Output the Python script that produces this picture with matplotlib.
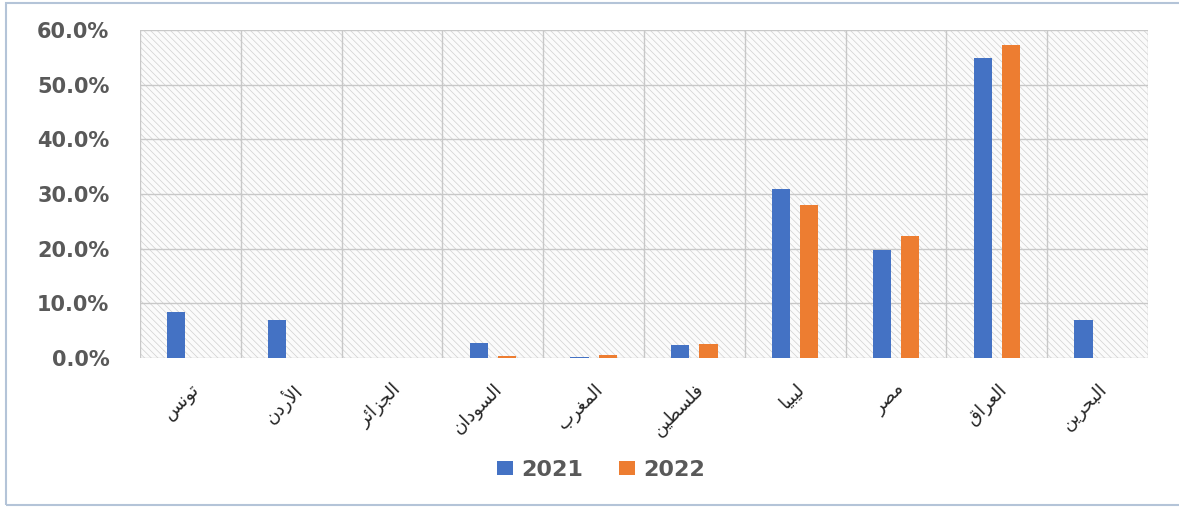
import matplotlib.pyplot as plt
import numpy as np
from matplotlib.patches import Rectangle
from matplotlib.ticker import PercentFormatter

countries = ["تونس", "الأردن", "الجزائر", "السودان", "المغرب",
             "فلسطين", "ليبيا", "مصر", "العراق", "البحرين"]
years = ["2021", "2022"]
share_2021 = [8.4, 6.9, 0.0, 2.7, 0.1, 2.4, 31.0, 19.7, 54.8, 6.9]
share_2022 = [0.0, 0.0, 0.0, 0.3, 0.5, 2.5, 28.0, 22.3, 57.2, 0.0]

BLUE = "#4472C4"
ORANGE = "#ED7D31"
GREY = "#595959"

# matplotlib has no Arabic shaping, so map letters to presentation forms
# (isolated, final, initial, medial); None = letter does not join forward
FORMS = {
    "ا": ("\uFE8D", "\uFE8E", None, None),
    "أ": ("\uFE83", "\uFE84", None, None),
    "ب": ("\uFE8F", "\uFE90", "\uFE91", "\uFE92"),
    "ت": ("\uFE95", "\uFE96", "\uFE97", "\uFE98"),
    "ج": ("\uFE9D", "\uFE9E", "\uFE9F", "\uFEA0"),
    "ح": ("\uFEA1", "\uFEA2", "\uFEA3", "\uFEA4"),
    "د": ("\uFEA9", "\uFEAA", None, None),
    "ر": ("\uFEAD", "\uFEAE", None, None),
    "ز": ("\uFEAF", "\uFEB0", None, None),
    "س": ("\uFEB1", "\uFEB2", "\uFEB3", "\uFEB4"),
    "ص": ("\uFEB9", "\uFEBA", "\uFEBB", "\uFEBC"),
    "ط": ("\uFEC1", "\uFEC2", "\uFEC3", "\uFEC4"),
    "ع": ("\uFEC9", "\uFECA", "\uFECB", "\uFECC"),
    "غ": ("\uFECD", "\uFECE", "\uFECF", "\uFED0"),
    "ف": ("\uFED1", "\uFED2", "\uFED3", "\uFED4"),
    "ق": ("\uFED5", "\uFED6", "\uFED7", "\uFED8"),
    "ل": ("\uFEDD", "\uFEDE", "\uFEDF", "\uFEE0"),
    "م": ("\uFEE1", "\uFEE2", "\uFEE3", "\uFEE4"),
    "ن": ("\uFEE5", "\uFEE6", "\uFEE7", "\uFEE8"),
    "و": ("\uFEED", "\uFEEE", None, None),
    "ي": ("\uFEF1", "\uFEF2", "\uFEF3", "\uFEF4"),
    "ئ": ("\uFE89", "\uFE8A", "\uFE8B", "\uFE8C"),
    "لأ": ("\uFEF7", "\uFEF8", None, None),
    "لا": ("\uFEFB", "\uFEFC", None, None),
}


def shape(word):
    # split into units, merging lam-alef ligatures
    units, i = [], 0
    while i < len(word):
        if word[i] == "ل" and i + 1 < len(word) and word[i + 1] in "اأ":
            units.append(word[i:i + 2])
            i += 2
        else:
            units.append(word[i])
            i += 1
    out = []
    for k, u in enumerate(units):
        iso, fin, ini, med = FORMS[u]
        prev_joins = k > 0 and FORMS[units[k - 1]][2] is not None
        next_exists = k + 1 < len(units)
        if prev_joins and next_exists and med:
            out.append(med)
        elif prev_joins:
            out.append(fin)
        elif next_exists and ini:
            out.append(ini)
        else:
            out.append(iso)
    return "".join(reversed(out))


plt.rcParams["hatch.linewidth"] = 0.5

fig = plt.figure(figsize=(11.79, 5.07), dpi=100)
fig.patch.set_facecolor("white")
fig.add_artist(Rectangle((0.005, 0.004), 1.2, 0.99, transform=fig.transFigure,
                         fill=False, edgecolor="#b4c4d8", linewidth=1.5))

ax = fig.add_axes([0.1187, 0.2939, 0.8550, 0.6469])
x = np.arange(len(countries))
w = 0.18
ax.bar(x - 0.14, share_2021, width=w, color=BLUE, label=years[0], zorder=3)
ax.bar(x + 0.14, share_2022, width=w, color=ORANGE, label=years[1], zorder=3)

# hatched plot background
ax.add_patch(Rectangle((0, 0), 1, 1, transform=ax.transAxes, facecolor="#fbfbfb",
                       edgecolor="#d0d0d0", hatch="\\\\\\\\\\", linewidth=0, zorder=0))

ax.set_xlim(-0.5, len(countries) - 0.5)
ax.set_ylim(0, 60)
ax.set_yticks(np.arange(0, 61, 10))
ax.yaxis.set_major_formatter(PercentFormatter(decimals=1))
ax.set_xticks(x)
ax.set_xticklabels([shape(c) for c in countries], rotation=45, ha="right",
                   rotation_mode="anchor", fontsize=13, color="#262626",
                   family="DejaVu Sans")
ax.set_xticks(np.arange(-0.5, len(countries), 1), minor=True)
ax.tick_params(axis="both", which="both", length=0)
ax.tick_params(axis="y", labelsize=15, labelcolor=GREY, pad=22)
ax.tick_params(axis="x", pad=16)
for lab in ax.get_yticklabels():
    lab.set_fontweight("bold")

ax.grid(axis="y", which="major", color="#c8c8c8", linewidth=1, zorder=1)
ax.grid(axis="x", which="minor", color="#c8c8c8", linewidth=1, zorder=1)
ax.grid(axis="x", which="major", visible=False)
for side in ["top", "right", "left", "bottom"]:
    ax.spines[side].set_visible(False)
ax.set_axisbelow(True)

fig.legend(loc="center", bbox_to_anchor=(0.51, 0.073), ncol=2, frameon=False,
           prop={"size": 16, "weight": "bold"}, labelcolor=GREY,
           handlelength=0.7, handleheight=0.6, handletextpad=0.4, columnspacing=1.6)

fig.savefig("out.png", dpi=100)
